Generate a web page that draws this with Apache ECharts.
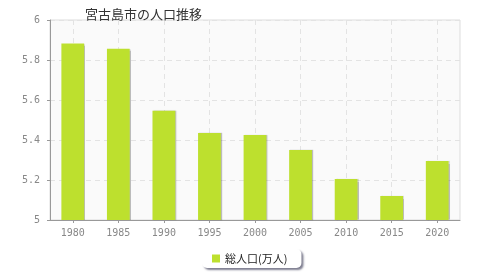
<!DOCTYPE html>
<html><head><meta charset="utf-8">
<script src="https://cdn.jsdelivr.net/npm/echarts@6/dist/echarts.min.js"></script>
<style>html,body{margin:0;padding:0;background:#fff}#c{width:480px;height:280px}</style>
</head><body><div id="c"></div>
<script>
const categories = ['1980','1985','1990','1995','2000','2005','2010','2015','2020'];
const population = [5.882, 5.856, 5.546, 5.435, 5.425, 5.35, 5.205, 5.12, 5.295];
const yTicks = [5, 5.2, 5.4, 5.6, 5.8, 6];
const titleText = '宮古島市の人口推移';
const seriesName = '総人口(万人)';

const chart = echarts.init(document.getElementById('c'), null, {renderer:'canvas'});
chart.setOption({
  animation:false,
  title:{text:titleText,left:80,top:3,textStyle:{fontSize:13,fontWeight:'normal',color:'#333',fontFamily:'Noto Sans CJK JP'}},
  grid:{left:50,right:20,top:20,bottom:60,show:true,backgroundColor:'#fafafa',borderColor:'#ddd',borderWidth:1},
  xAxis:{type:'category',data:categories,
    axisLine:{lineStyle:{color:'#999',width:1}},
    axisTick:{show:true,alignWithLabel:true,length:3,lineStyle:{color:'#999'}},
    axisLabel:{color:'#888',fontSize:10,margin:8,fontFamily:'DejaVu Sans Mono'},
    splitLine:{show:true,alignWithLabel:true,lineStyle:{color:'#e3e3e3',type:[5,4]}}},
  yAxis:{type:'value',min:yTicks[0],max:yTicks[yTicks.length-1],interval:0.2,
    axisLine:{show:true,lineStyle:{color:'#999',width:1}},
    axisTick:{show:true,length:3,lineStyle:{color:'#999'}},
    axisLabel:{color:'#888',fontSize:10,margin:10,fontFamily:'DejaVu Sans Mono',formatter:v=>String(Math.round(v*10)/10)},
    splitLine:{show:true,lineStyle:{color:'#e3e3e3',type:[5,4]}}},
  legend:{data:[seriesName],bottom:12,left:202,itemWidth:8,itemHeight:8,icon:'rect',
    backgroundColor:'#fff',borderColor:'#ccc',borderWidth:0,borderRadius:5,padding:[4,14,4,10],
    shadowColor:'rgba(40,40,70,0.6)',shadowBlur:2,shadowOffsetX:2,shadowOffsetY:2,
    textStyle:{fontSize:11,color:'#222',fontFamily:'Noto Sans CJK JP'}},
  series:[{name:seriesName,type:'bar',data:population,barWidth:'50%',
    itemStyle:{color:'#bde02e',shadowColor:'rgba(0,0,0,0.25)',shadowBlur:1,shadowOffsetX:1,shadowOffsetY:0}}]
});
</script></body></html>
